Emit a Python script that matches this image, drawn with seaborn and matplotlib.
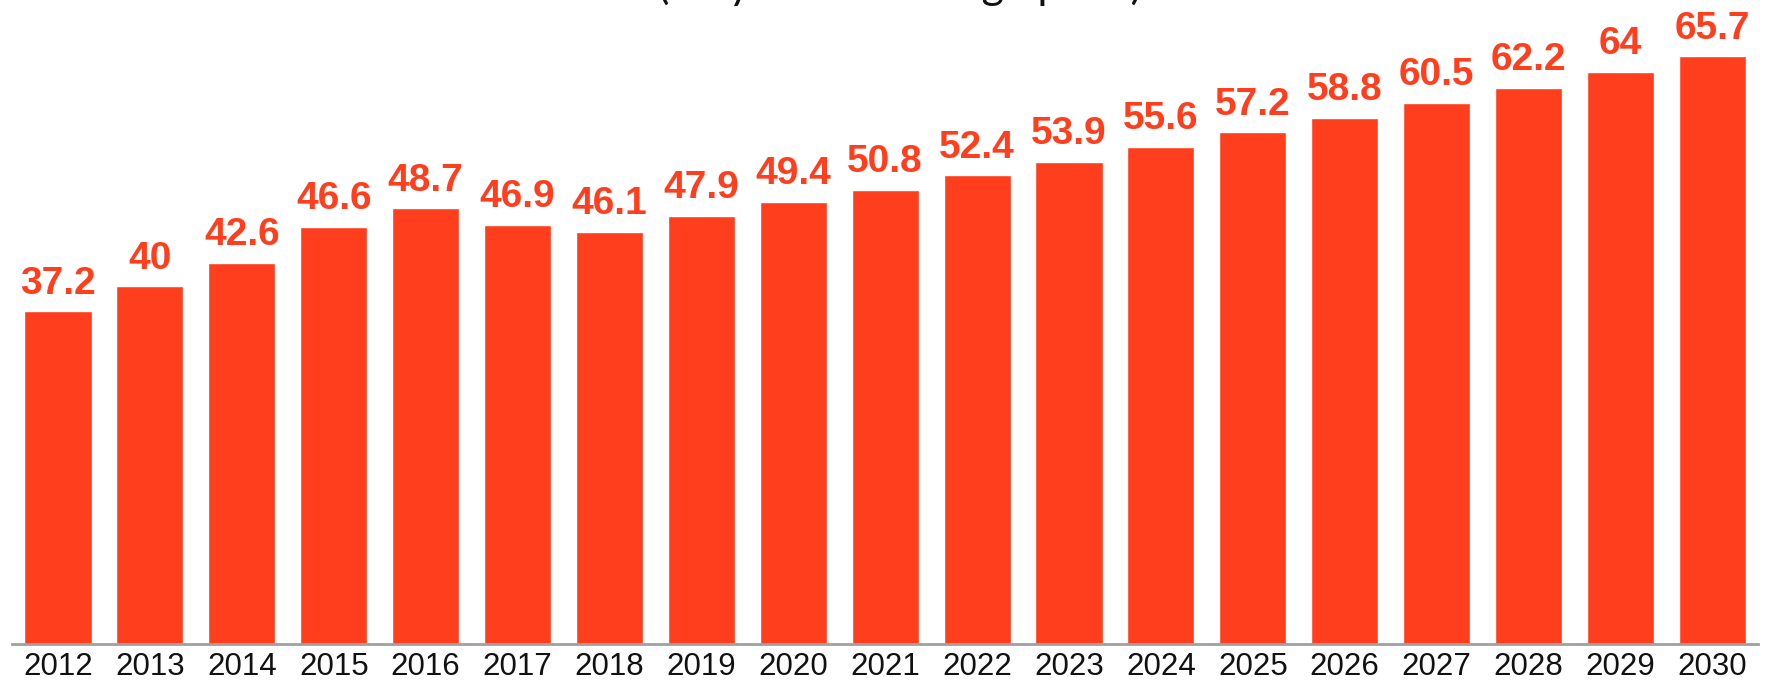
import seaborn as sns
import matplotlib.pyplot as plt
from matplotlib import ticker
import pandas as pd

# values
years = [str(y) for y in range(2012, 2031)]
values = [37.2, 40, 42.6, 46.6, 48.7, 46.9, 46.1, 47.9, 49.4, 50.8,
          52.4, 53.9, 55.6, 57.2, 58.8, 60.5, 62.2, 64, 65.7]
title_text = "(bn yuan at average price)"

bar_color = "#ff3e1e"
axis_gray = "#a0a0a0"

df = pd.DataFrame({"year": years, "value": values})

sns.set_style("white")
plt.rcParams["font.family"] = ["Liberation Sans", "DejaVu Sans"]

fig = plt.figure(figsize=(17.71, 6.81), dpi=100)
ax = fig.add_axes([0.0068, 0.0543, 0.986, 0.9457])

sns.barplot(data=df, x="year", y="value", color=bar_color, width=0.73,
            saturation=1, ax=ax)

for i, v in enumerate(values):
    label = f"{v:g}"
    ax.annotate(label, (i, v), xytext=(0, 7), textcoords="offset points",
                ha="center", va="bottom", fontsize=28, fontweight="bold",
                color=bar_color)

ax.set_xlim(-0.5, len(years) - 0.5)
ax.set_ylim(0, 72)
ax.set_xlabel("")
ax.set_ylabel("")
ax.set_yticks([])

for side in ["top", "right", "left"]:
    ax.spines[side].set_visible(False)
ax.spines["bottom"].set_color(axis_gray)
ax.spines["bottom"].set_linewidth(2)

# labels centred under bars, tick marks between bars
ax.tick_params(axis="x", which="major", length=0, pad=6, labelsize=22.5,
               labelcolor="#111111")
ax.xaxis.set_minor_locator(ticker.FixedLocator(
    [i - 0.5 for i in range(len(years) + 1)]))
ax.tick_params(axis="x", which="minor", length=8, width=2, color=axis_gray,
               direction="out")

# title is cut off by the top edge in the reference
fig.text(0.508, 1.002, title_text, ha="center", va="baseline", fontsize=31,
         family=["Lato", "DejaVu Sans"], color="#111111")

fig.savefig("out.png", dpi=100)
